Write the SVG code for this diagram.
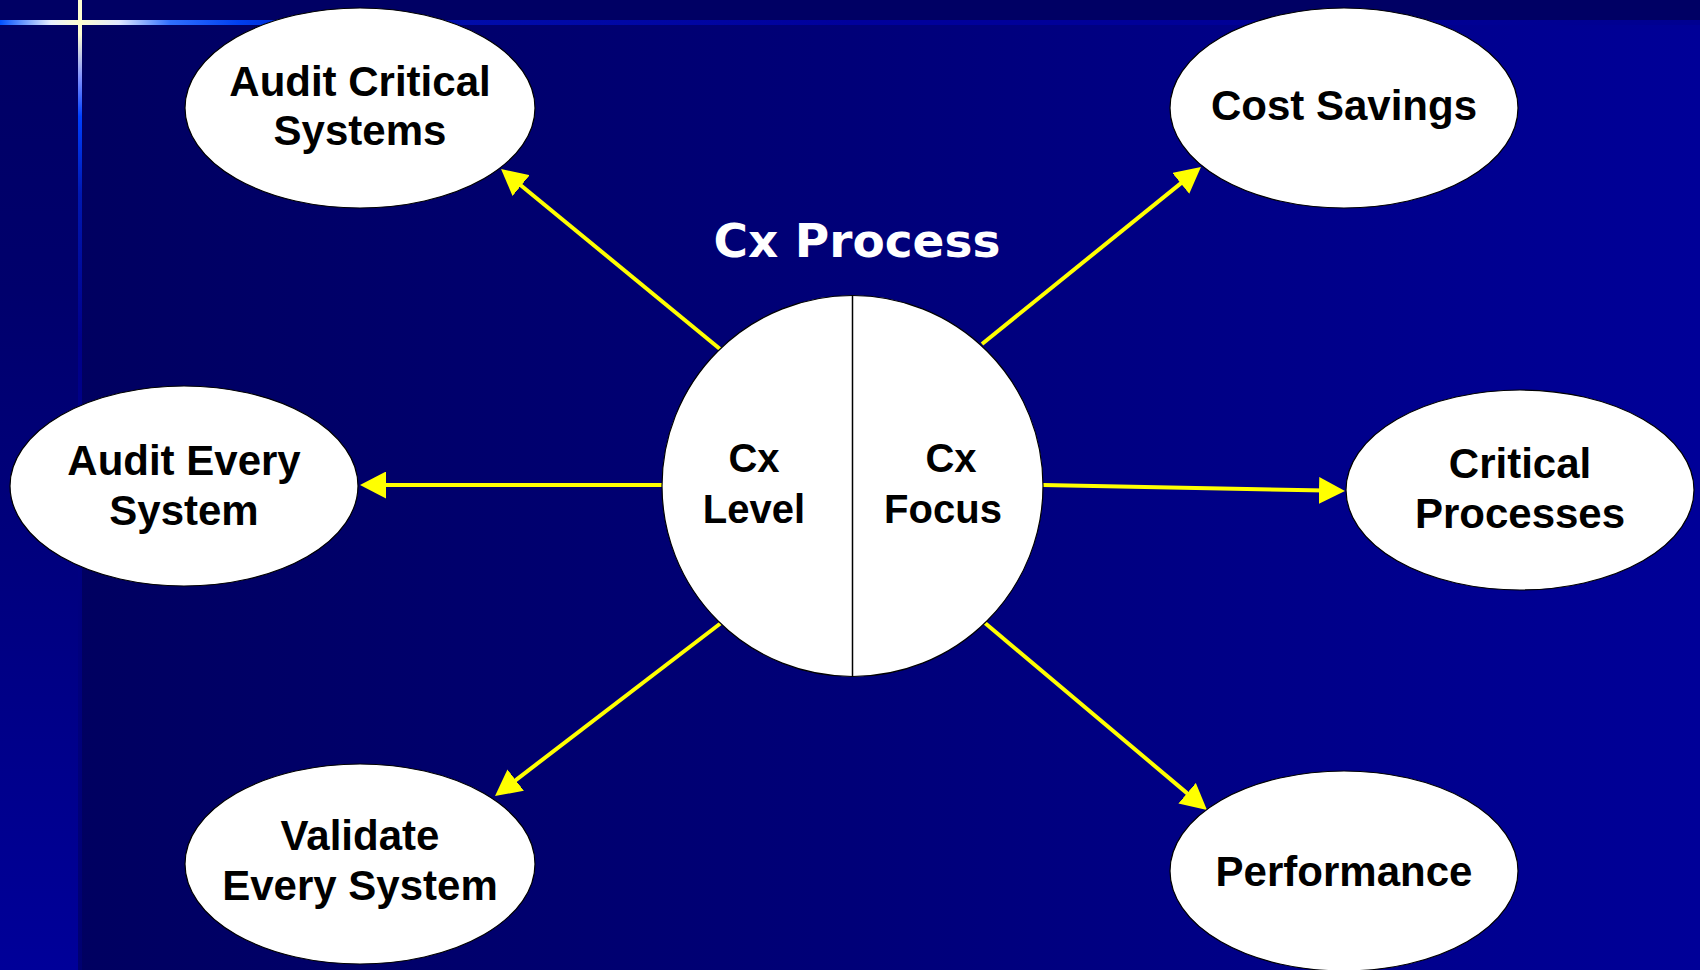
<svg xmlns="http://www.w3.org/2000/svg" width="1700" height="970" viewBox="0 0 1700 970">
<defs>
<style>
.node{fill:#ffffff;stroke:#000000;stroke-width:1.2}
.lbl{font-family:"Liberation Sans",Arial,sans-serif;font-weight:bold;font-size:42px;fill:#000000;text-anchor:middle}
.ctr{font-size:40px}
.title{font-family:"DejaVu Sans",Verdana,sans-serif;font-weight:bold;font-size:47px;fill:#ffffff;text-anchor:middle}
.conn{stroke:#ffff00;stroke-width:4;fill:none;marker-end:url(#ah)}
</style>
<linearGradient id="bgMain" x1="0" y1="0" x2="1" y2="0">
<stop offset="0" stop-color="#00005e"/>
<stop offset="0.5" stop-color="#000078"/>
<stop offset="1" stop-color="#000098"/>
</linearGradient>
<linearGradient id="bgLeft" x1="0" y1="0" x2="0" y2="1">
<stop offset="0" stop-color="#000064"/>
<stop offset="0.3" stop-color="#00006c"/>
<stop offset="1" stop-color="#000099"/>
</linearGradient>
<linearGradient id="hLine" gradientUnits="userSpaceOnUse" x1="0" y1="0" x2="1700" y2="0">
<stop offset="0" stop-color="#0050ff"/>
<stop offset="0.03" stop-color="#e8f0ff"/>
<stop offset="0.047" stop-color="#ffffd0"/>
<stop offset="0.07" stop-color="#e0e8ff"/>
<stop offset="0.1" stop-color="#3070ff"/>
<stop offset="0.14" stop-color="#0040f0"/>
<stop offset="0.2" stop-color="#0010b0"/>
<stop offset="0.5" stop-color="#00009c"/>
<stop offset="1" stop-color="#000090"/>
</linearGradient>
<linearGradient id="vLine" gradientUnits="userSpaceOnUse" x1="0" y1="0" x2="0" y2="970">
<stop offset="0" stop-color="#ffffd0"/>
<stop offset="0.035" stop-color="#ffffd0"/>
<stop offset="0.08" stop-color="#8090ff"/>
<stop offset="0.12" stop-color="#0040ff"/>
<stop offset="0.2" stop-color="#0018b0"/>
<stop offset="0.35" stop-color="#00008a"/>
<stop offset="1" stop-color="#000070"/>
</linearGradient>
<marker id="ah" markerUnits="userSpaceOnUse" markerWidth="26" markerHeight="27" refX="6" refY="13.5" orient="auto">
<path d="M0,0 L26,13.5 L0,27 z" fill="#ffff00"/>
</marker>
</defs>

<g id="background">
<rect x="0" y="0" width="1700" height="970" fill="url(#bgMain)"/>
<rect x="0" y="0" width="80" height="970" fill="url(#bgLeft)"/>
<rect x="0" y="0" width="1700" height="21" fill="#000064"/>
<rect x="0" y="20" width="1700" height="5" fill="url(#hLine)"/>
<rect x="78" y="0" width="4" height="970" fill="url(#vLine)"/>
</g>

<g id="connectors">
<line class="conn" x1="720" y1="349" x2="516.5" y2="181.7"/>
<line class="conn" x1="982" y1="344" x2="1185.4" y2="179.6"/>
<line class="conn" x1="662" y1="485" x2="380" y2="485"/>
<line class="conn" x1="1043" y1="485" x2="1325" y2="490.6"/>
<line class="conn" x1="721" y1="623" x2="510.9" y2="783.8"/>
<line class="conn" x1="985" y1="623" x2="1191.7" y2="797.1"/>
</g>

<g id="title">
<text class="title" x="857" y="257">Cx Process</text>
</g>

<g id="center">
<circle class="node" cx="852.5" cy="486" r="190.5"/>
<line x1="852.5" y1="295.5" x2="852.5" y2="676.5" stroke="#000000" stroke-width="1.5"/>
<text class="lbl ctr" x="754" y="472">Cx</text>
<text class="lbl ctr" x="754" y="523">Level</text>
<text class="lbl ctr" x="951" y="472">Cx</text>
<text class="lbl ctr" x="943" y="523">Focus</text>
</g>

<g id="audit-critical">
<ellipse class="node" cx="360" cy="108" rx="175" ry="100"/>
<text class="lbl" x="360" y="96">Audit Critical</text>
<text class="lbl" x="360" y="145">Systems</text>
</g>

<g id="cost-savings">
<ellipse class="node" cx="1344" cy="108" rx="174" ry="100"/>
<text class="lbl" x="1344" y="120">Cost Savings</text>
</g>

<g id="audit-every">
<ellipse class="node" cx="184" cy="486" rx="174" ry="100"/>
<text class="lbl" x="184" y="475">Audit Every</text>
<text class="lbl" x="184" y="525">System</text>
</g>

<g id="critical-processes">
<ellipse class="node" cx="1520" cy="490" rx="174" ry="100"/>
<text class="lbl" x="1520" y="478">Critical</text>
<text class="lbl" x="1520" y="528">Processes</text>
</g>

<g id="validate-every">
<ellipse class="node" cx="360" cy="864" rx="175" ry="100"/>
<text class="lbl" x="360" y="850">Validate</text>
<text class="lbl" x="360" y="900">Every System</text>
</g>

<g id="performance">
<ellipse class="node" cx="1344" cy="871" rx="174" ry="100"/>
<text class="lbl" x="1344" y="886">Performance</text>
</g>
</svg>
